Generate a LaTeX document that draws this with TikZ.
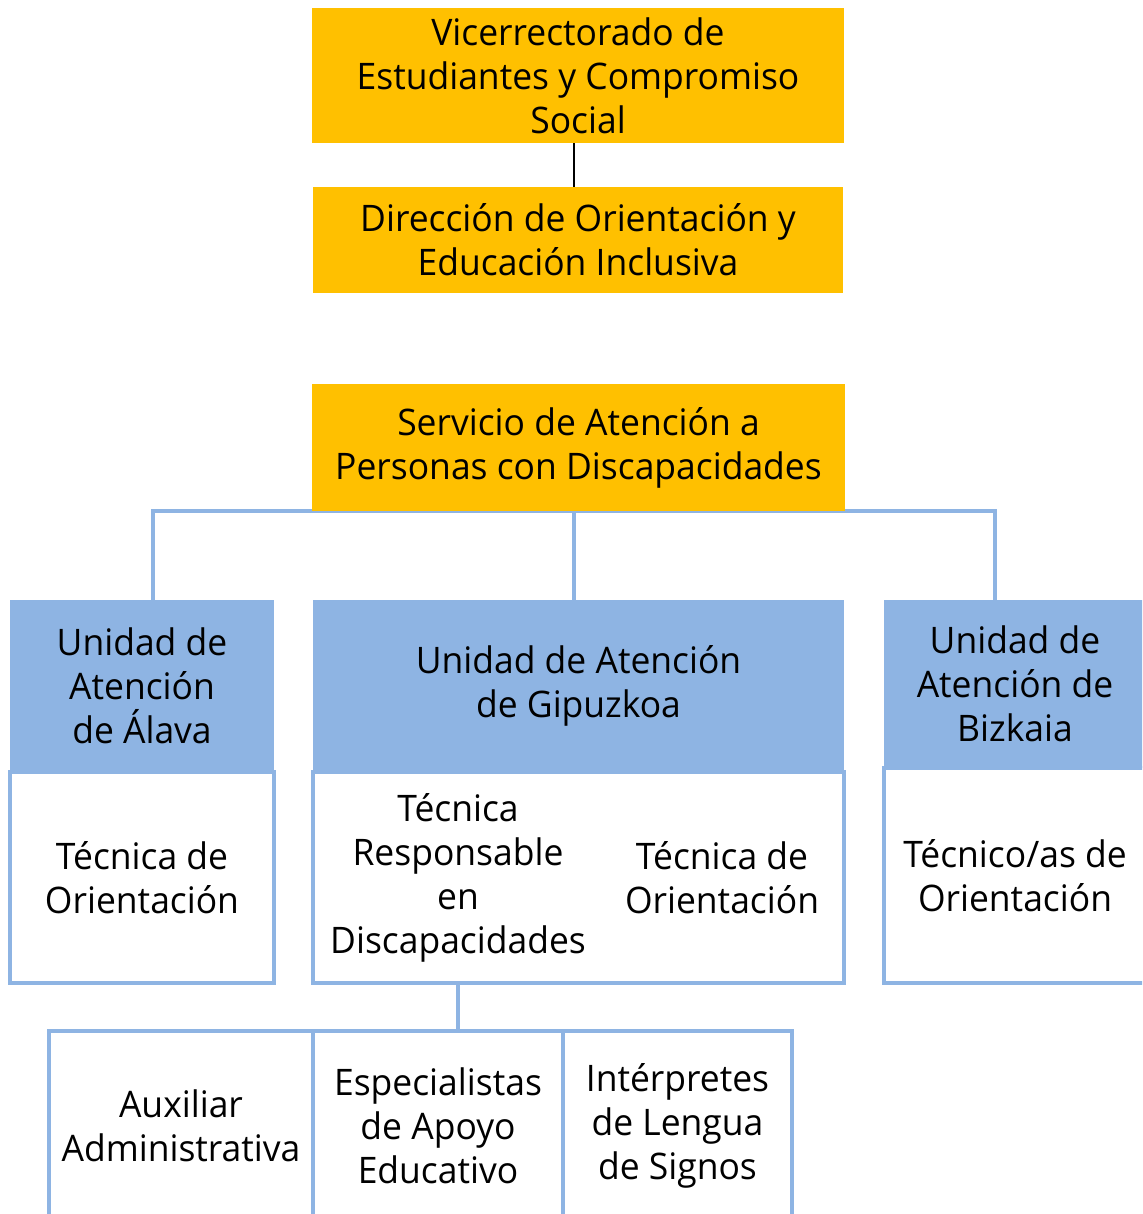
\documentclass[tikz,border=0pt]{standalone}
\usepackage{fontspec}
\setmainfont[FakeStretch=0.97]{Open Sans}
\usetikzlibrary{backgrounds}
\definecolor{orgorange}{HTML}{FFC000}
\definecolor{orgblue}{HTML}{8EB4E3}
\begin{document}
\begin{tikzpicture}[x=0.025cm, y=-0.025cm,
                    every node/.style={align=center, inner sep=0pt, font=\fontsize{26}{31.3}\selectfont},
                    topbox/.style={fill=orgorange},
                    headbox/.style={fill=orgblue},
                    bodybox/.style={draw=orgblue, line width=2.8pt, fill=white},
                    link/.style={draw=orgblue, line width=2.8pt}]
	\useasboundingbox (0,0) rectangle (1142,1214);
	\clip (0,0) rectangle (1142,1214);
	% top of the chart
	\node[topbox, minimum width=13.3cm, minimum height=3.375cm] (vice) at (578,75.5)
		{Vicerrectorado de\\Estudiantes y Compromiso\\Social};
	\node[topbox, minimum width=13.25cm, minimum height=2.65cm] (dir) at (578,240)
		{Dirección de Orientación y\\Educación Inclusiva};
	\node[topbox, minimum width=13.325cm, minimum height=3.175cm] (serv) at (578.5,447.5)
		{Servicio de Atención a\\Personas con Discapacidades};
	% units
	\node[bodybox, minimum width=6.6cm, minimum height=5.275cm] (alavaB) at (142,877.5)
		{Técnica de\\Orientación};
	\node[headbox, minimum width=6.6cm, minimum height=4.3cm] (alavaH) at (142,686)
		{Unidad de\\Atención\\de Álava};
	\node[bodybox, minimum width=13.275cm, minimum height=5.275cm] (gipuB) at (578.5,877.5) {};
	\node[headbox, minimum width=13.275cm, minimum height=4.3cm] (gipuH) at (578.5,686)
		{Unidad de Atención\\de Gipuzkoa};
	\node (gipuL) at (458,878) {Técnica\\Responsable\\en\\Discapacidades};
	\node (gipuR) at (722,878) {Técnica de\\Orientación};
	\node[bodybox, minimum width=6.55cm, minimum height=5.375cm] (bizB) at (1015,875.5)
		{Técnico/as de\\Orientación};
	\node[headbox, minimum width=6.55cm, minimum height=4.2cm] (bizH) at (1015,684)
		{Unidad de\\Atención de\\Bizkaia};
	% staff of Gipuzkoa
	\node[bodybox, minimum width=6.6cm, minimum height=4.75cm] (aux) at (181,1126)
		{Auxiliar\\Administrativa};
	\node[bodybox, minimum width=6.25cm, minimum height=4.75cm] (esp) at (438,1126)
		{Especialistas\\de Apoyo\\Educativo};
	\node[bodybox, minimum width=5.725cm, minimum height=4.75cm] (int) at (677.5,1126)
		{Intérpretes\\de Lengua\\de Signos};
	\coordinate (alavaTop) at (153,600);
	\coordinate (gipuTop) at (574,600);
	\coordinate (bizTop) at (995,600);
	\begin{scope}[on background layer]
	\draw[black, line width=1.4pt] (gipuTop |- vice.south) -- (gipuTop |- dir.north);
	\draw[link] (alavaTop) |- (serv.south) -| (bizTop);
	\draw[link] (gipuTop |- serv.south) -- (gipuTop);
	\draw[link] (gipuL |- gipuB.south) -- (gipuL |- esp.north);
	\end{scope}
\end{tikzpicture}
\end{document}
